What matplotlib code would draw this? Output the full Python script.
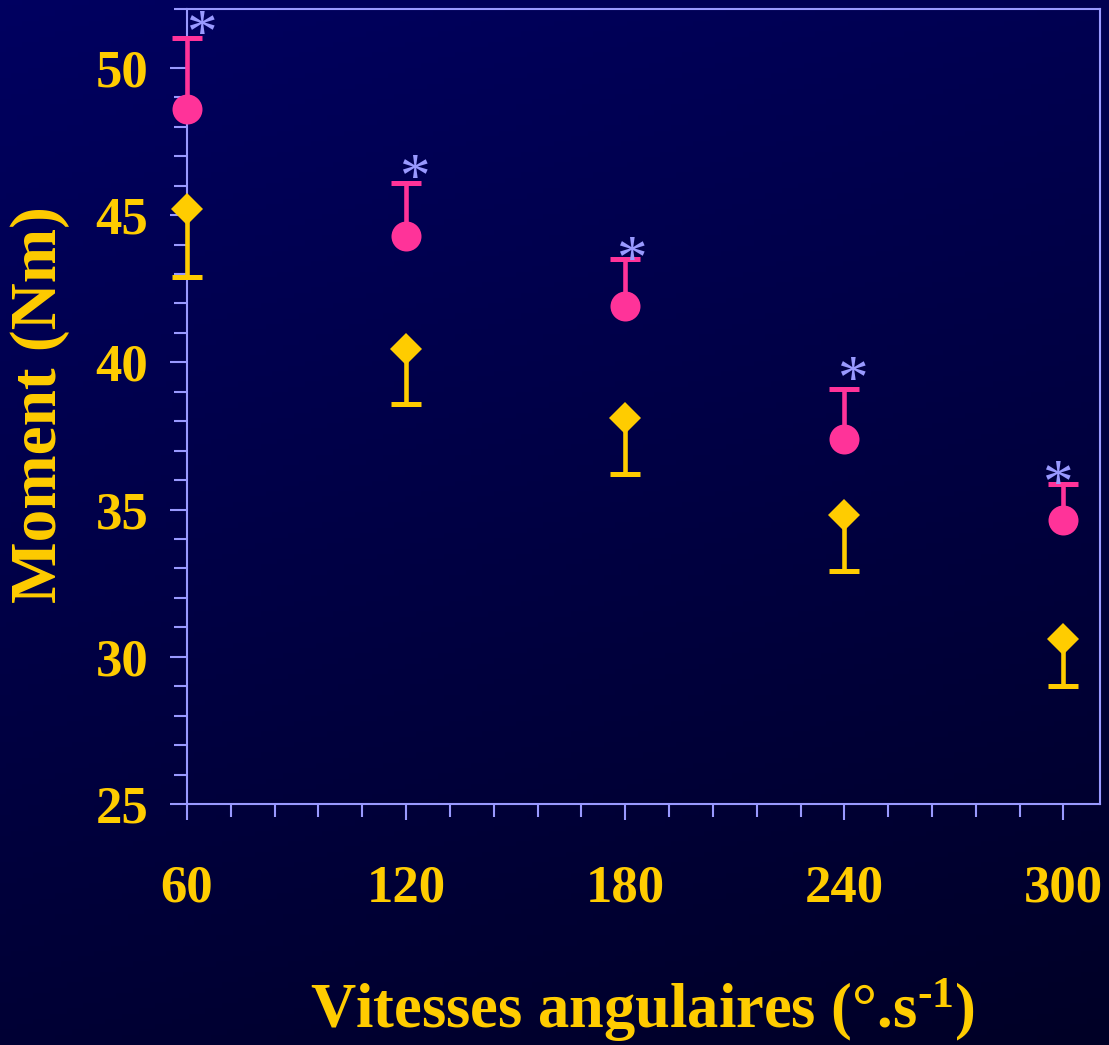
import numpy as np
import matplotlib
matplotlib.use("Agg")
import matplotlib.pyplot as plt
from matplotlib.colors import LinearSegmentedColormap
from matplotlib.ticker import MultipleLocator

plt.rcParams['font.family'] = ['Liberation Serif', 'DejaVu Serif']
plt.rcParams['mathtext.fontset'] = 'custom'
plt.rcParams['mathtext.rm'] = 'Liberation Serif:bold'
plt.rcParams['mathtext.bf'] = 'Liberation Serif:bold'
plt.rcParams['mathtext.default'] = 'rm'

# data
speeds = [60, 120, 180, 240, 300]
pink_mean = [48.6, 44.3, 41.9, 37.4, 34.65]
pink_top = [51.0, 46.1, 43.5, 39.1, 35.87]
yellow_mean = [45.2, 40.45, 38.1, 34.8, 30.6]
yellow_bottom = [42.9, 38.6, 36.2, 32.9, 29.0]
# significance asterisks (x, y of the glyph centre)
star_x = [63.8, 122.2, 181.6, 242.2, 298.4]
star_y = [51.48, 46.6, 43.8, 39.74, 36.2]

PINK = "#FF3399"
YELLOW = "#FFCC00"
LAV = "#9999FF"

fig = plt.figure(figsize=(11.09, 10.45), dpi=100)

# gradient background
bg = fig.add_axes([0, 0, 1, 1], zorder=-10)
yy, xx = np.mgrid[0:1:200j, 0:1:200j]
grad = 0.75 * yy + 0.25 * xx
cmap = LinearSegmentedColormap.from_list("bg", ["#000060", "#000026"])
bg.imshow(grad, cmap=cmap, aspect="auto", extent=[0, 1, 0, 1], origin="upper")
bg.axis("off")

ax = fig.add_axes([187 / 1109, 1 - 804 / 1045, 913 / 1109, 795 / 1045])
ax.patch.set_alpha(0)

# error bars (pink up, yellow down)
ax.vlines(speeds, pink_mean, pink_top, color=PINK, lw=3.3, zorder=3, clip_on=False)
ax.plot(speeds, pink_top, ls="none", marker="_", ms=21, mew=3.6, color=PINK,
        zorder=3, clip_on=False)
ax.vlines(speeds, yellow_bottom, yellow_mean, color=YELLOW, lw=3.3, zorder=3, clip_on=False)
ax.plot(speeds, yellow_bottom, ls="none", marker="_", ms=21, mew=3.6, color=YELLOW,
        zorder=3, clip_on=False)

ax.plot(speeds, pink_mean, ls="none", marker="o", ms=21.6, mew=0, color=PINK,
        zorder=4, clip_on=False)
ax.plot(speeds, yellow_mean, ls="none", marker="D", ms=16.5, mew=0, color=YELLOW,
        zorder=4, clip_on=False)

star_fs = 44
for sx, sy in zip(star_x, star_y):
    ax.annotate("*", (sx, sy), xytext=(0, -0.2 * star_fs), textcoords="offset points",
                color=LAV, fontsize=star_fs, ha="center", va="center", zorder=5,
                annotation_clip=False)

ax.set_xlim(60, 310)
ax.set_ylim(25, 52)
ax.xaxis.set_major_locator(MultipleLocator(60))
ax.xaxis.set_minor_locator(MultipleLocator(12))
ax.yaxis.set_major_locator(MultipleLocator(5))
ax.yaxis.set_minor_locator(MultipleLocator(1))

for s in ax.spines.values():
    s.set_color(LAV)
    s.set_linewidth(1.5)

ax.tick_params(axis="y", which="major", length=12, width=1.5, color=LAV, pad=16,
               labelsize=38, labelcolor=YELLOW)
ax.tick_params(axis="y", which="minor", length=9.5, width=1.5, color=LAV)
ax.tick_params(axis="x", which="major", length=11.5, width=1.5, color=LAV, pad=32,
               labelsize=38, labelcolor=YELLOW)
ax.tick_params(axis="x", which="minor", length=9.5, width=1.5, color=LAV)
for lab in ax.get_xticklabels() + ax.get_yticklabels():
    lab.set_fontweight("bold")

ax.set_ylabel("Moment (Nm)", fontsize=47, fontweight="bold", color=YELLOW, va="center")
ax.yaxis.set_label_coords(-0.161, 0.502)
ax.set_xlabel(r"Vitesses angulaires (°.s$^{\text{-1}}$)", fontsize=45, fontweight="bold",
              color=YELLOW, va="center")
ax.xaxis.set_label_coords(0.4995, -0.259)

fig.savefig("out.png", dpi=100)
